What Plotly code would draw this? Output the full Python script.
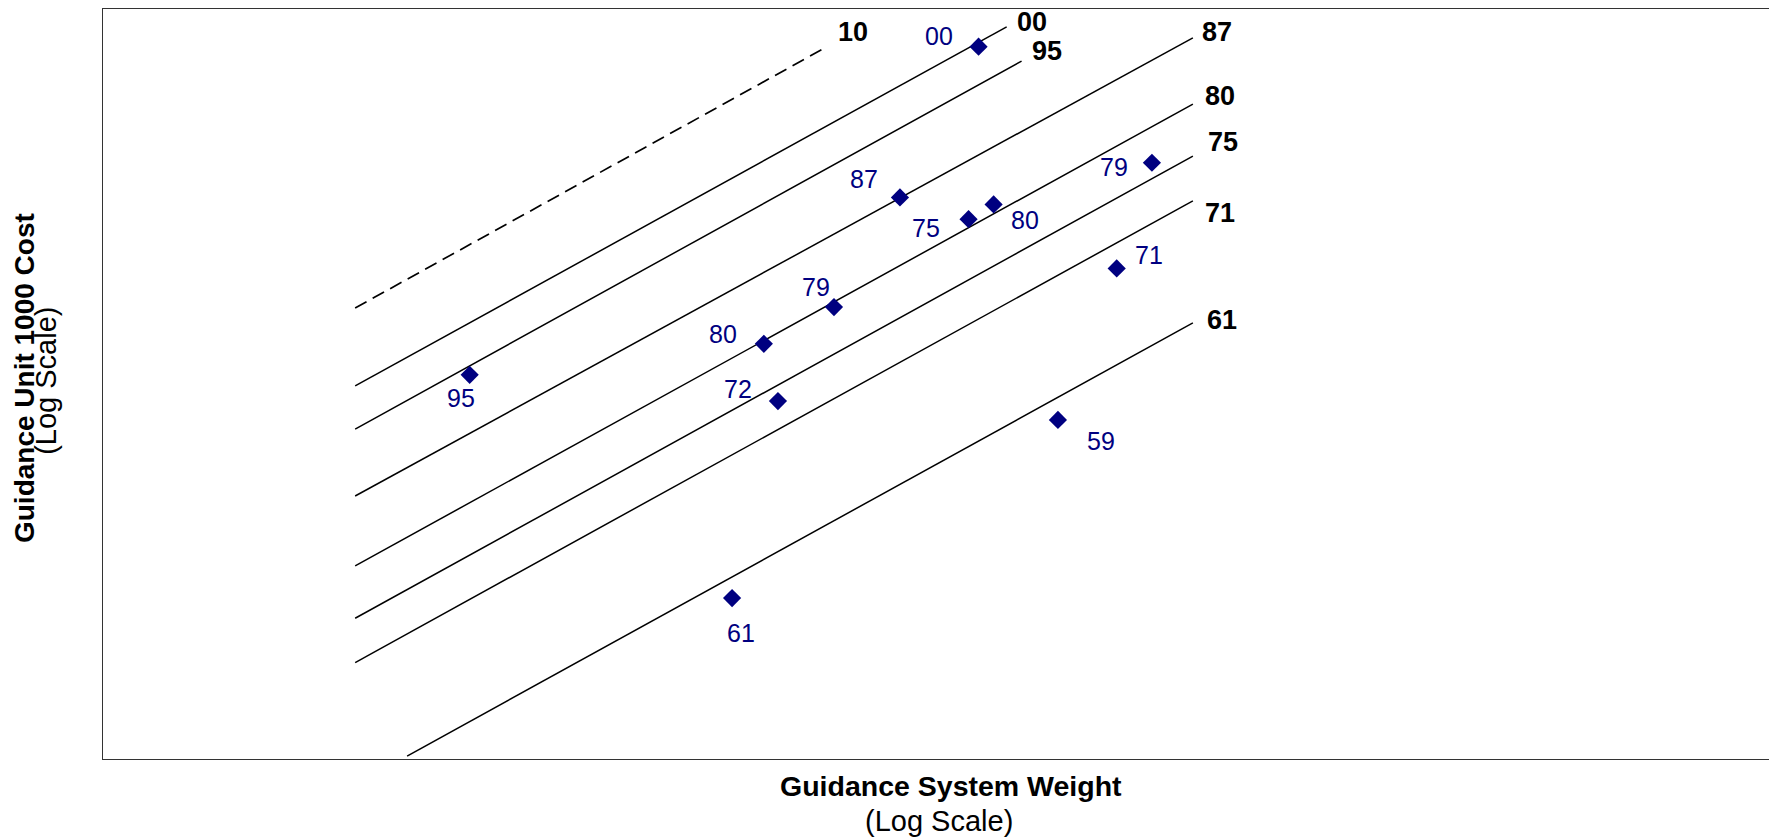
import numpy as np
import plotly.graph_objects as go

# ---- data (weight on x, unit cost in $K on y, both log scale) ----
point_years = ['00', '95', '87', '75', '80', '79', '79', '80', '72', '71', '59', '61']
point_weight = [206, 35.5, 157, 199, 217, 375, 125, 98.1, 103, 332, 271, 87.9]
point_cost = [369, 70.0, 172, 154, 166, 205, 98.7, 81.9, 61.3, 120, 55.7, 22.6]

line_years = ['10', '00', '95', '87', '80', '75', '71', '61']
line_weight_start = [23.9, 23.9, 23.9, 23.9, 23.9, 23.9, 23.9, 28.6]
line_weight_end = [122, 227, 239, 432, 432, 432, 432, 432]
line_cost_start = [98.2, 66.2, 53.2, 37.9, 26.6, 20.4, 16.3, 10.15]
line_cost_end = [369, 408, 343, 386, 276, 212, 169, 91.1]
line_projected = [True, False, False, False, False, False, False, False]

# ---- styling ----
FONT = "Liberation Sans, Arial, sans-serif"
NAVY = "#000080"
# label offsets in screen pixels (dx right, dy down)
point_label_offsets = [(-40, -11), (-9, 23), (-36, -18), (-43, 9), (31, 16), (-38, 4),
                       (-18, -20), (-41, -10), (-40, -12), (32, -13), (43, 21), (9, 35)]
line_label_offsets = [(26, -15), (25, -5), (25, -10), (24, -6), (27, -8), (30, -14), (27, 12), (29, -3)]

fig = go.Figure()

for i, name in enumerate(line_years):
    fig.add_trace(go.Scatter(
        x=[line_weight_start[i], line_weight_end[i]],
        y=[line_cost_start[i], line_cost_end[i]],
        mode='lines',
        line=dict(color='black', width=1.7 if line_projected[i] else 1.5,
                  dash='13px,7px' if line_projected[i] else 'solid'),
        showlegend=False, hoverinfo='skip'))

fig.add_trace(go.Scatter(
    x=point_weight, y=point_cost, mode='markers',
    marker=dict(symbol='diamond', size=14, color=NAVY),
    showlegend=False, text=point_years))

annotations = []
for i, name in enumerate(line_years):
    dx, dy = line_label_offsets[i]
    annotations.append(dict(
        x=np.log10(line_weight_end[i]), y=np.log10(line_cost_end[i]), xref='x', yref='y',
        text=f"<b>{name}</b>", showarrow=False, xshift=dx, yshift=-dy,
        font=dict(family=FONT, size=27, color='black'),
        xanchor='center', yanchor='middle'))

for i, name in enumerate(point_years):
    dx, dy = point_label_offsets[i]
    annotations.append(dict(
        x=np.log10(point_weight[i]), y=np.log10(point_cost[i]), xref='x', yref='y',
        text=name, showarrow=False, xshift=dx, yshift=-dy,
        font=dict(family=FONT, size=25, color=NAVY),
        xanchor='center', yanchor='middle'))

# axis titles
annotations += [
    dict(x=0.509, y=-0.036, xref='paper', yref='paper', text='<b>Guidance System Weight</b>',
         showarrow=False, font=dict(family=FONT, size=28.5, color='black'),
         xanchor='center', yanchor='middle'),
    dict(x=0.502, y=-0.0827, xref='paper', yref='paper', text='(Log Scale)',
         showarrow=False, font=dict(family=FONT, size=29, color='black'),
         xanchor='center', yanchor='middle'),
    dict(x=-0.0474, y=0.508, xref='paper', yref='paper', text='<b>Guidance Unit 1000 Cost</b>',
         showarrow=False, textangle=-90, font=dict(family=FONT, size=28, color='black'),
         xanchor='center', yanchor='middle'),
    dict(x=-0.0343, y=0.504, xref='paper', yref='paper', text='(Log Scale)',
         showarrow=False, textangle=-90, font=dict(family=FONT, size=29, color='black'),
         xanchor='center', yanchor='middle'),
]

fig.update_layout(
    width=1769, height=839,
    margin=dict(l=103, r=0, t=9, b=80),
    paper_bgcolor='white', plot_bgcolor='white',
    font=dict(family=FONT),
    showlegend=False,
    annotations=annotations,
    xaxis=dict(type='log', range=[1.0, 3.5], showgrid=False, zeroline=False,
               showticklabels=False, ticks='', showline=True, mirror=True,
               linecolor='#333333', linewidth=1),
    yaxis=dict(type='log', range=[1.0, 2.65], showgrid=False, zeroline=False,
               showticklabels=False, ticks='', showline=True, linecolor='#333333', linewidth=1),
)

# remove the default 8px page margin so the figure fills the window exactly
fig.write_html("out.html", config={'responsive': False, 'displayModeBar': False},
               post_script="document.body.style.margin='0';document.body.style.overflow='hidden';")
